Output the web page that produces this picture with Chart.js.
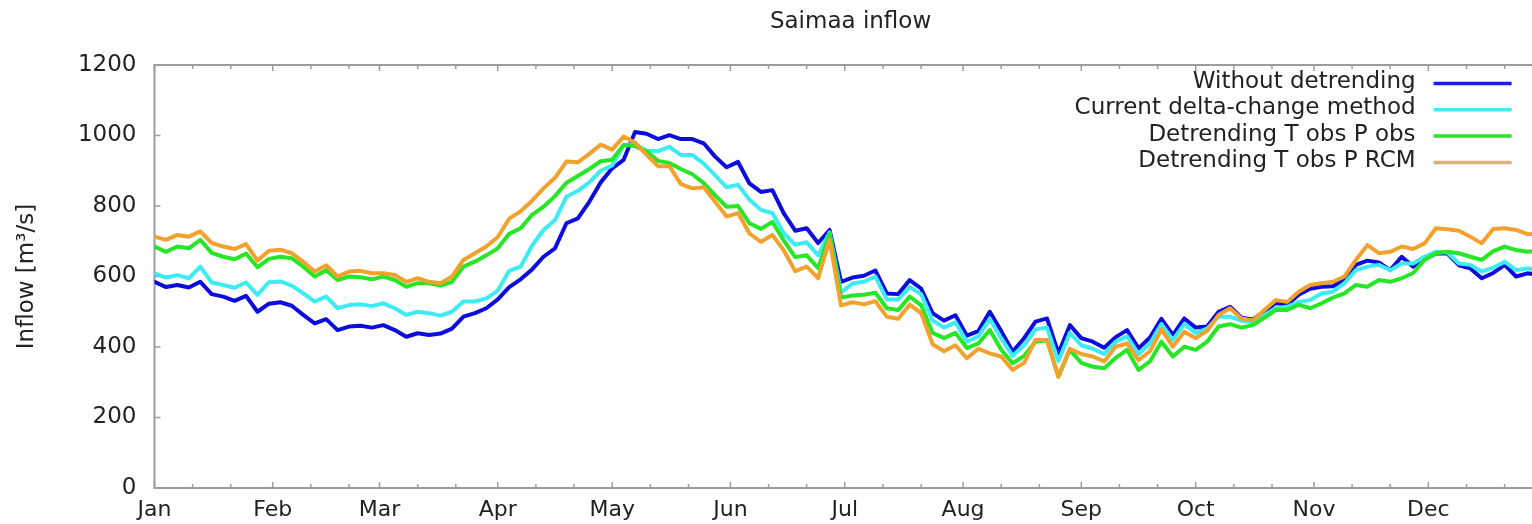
<!DOCTYPE html>
<html>
<head>
<meta charset="utf-8">
<title>Saimaa inflow</title>
<script src="https://cdn.jsdelivr.net/npm/chart.js@4.4.1/dist/chart.umd.min.js"></script>
<style>
  html, body { margin: 0; padding: 0; background: #ffffff; overflow: hidden; }
  #wrap { width: 1560px; height: 524px; }
</style>
</head>
<body>
<div id="wrap"><canvas id="chart" width="1560" height="524"></canvas></div>
<script>
// Day of year (0 = 1 Jan) for each sample
const days = [
  0, 3, 6, 9, 12, 15, 18, 21, 24, 27, 30, 33, 36, 39, 42, 45, 48, 51, 54, 57,
  60, 63, 66, 69, 72, 75, 78, 81, 84, 87, 90, 93, 96, 99, 102, 105, 108, 111, 114, 117,
  120, 123, 126, 129, 132, 135, 138, 141, 144, 147, 150, 153, 156, 159, 162, 165, 168, 171, 174, 177,
  180, 183, 186, 189, 192, 195, 198, 201, 204, 207, 210, 213, 216, 219, 222, 225, 228, 231, 234, 237,
  240, 243, 246, 249, 252, 255, 258, 261, 264, 267, 270, 273, 276, 279, 282, 285, 288, 291, 294, 297,
  300, 303, 306, 309, 312, 315, 318, 321, 324, 327, 330, 333, 336, 339, 342, 345, 348, 351, 354, 357,
  360, 363
];

// Inflow, m³/s
const withoutDetrending = [
  585, 570, 576, 569, 585, 550, 543, 531, 545, 500, 523, 527, 517, 491, 467, 479, 448, 458, 460, 455,
  462, 448, 429, 439, 434, 438, 452, 486, 496, 510, 535, 570, 592, 620, 656, 680, 751, 765, 812, 867,
  907, 931, 1010, 1005, 990, 1001, 990, 990, 978, 940, 910, 925, 864, 840, 845, 779, 730, 737, 695, 732,
  585, 597, 602, 617, 552, 550, 590, 566, 496, 475, 490, 432, 445, 500, 445, 387, 425, 472, 481, 382,
  462, 425, 415, 398, 428, 448, 396, 427, 480, 434, 481, 455, 458, 500, 514, 483, 478, 500, 525, 520,
  548, 565, 571, 572, 590, 633, 645, 640, 618, 656, 628, 650, 665, 665, 632, 623, 595, 610, 633, 600,
  609, 604
];
const currentDeltaChange = [
  609, 597, 604, 595, 628, 583, 576, 568, 583, 548, 584, 586, 574, 552, 529, 543, 510, 519, 521, 516,
  524, 510, 491, 500, 496, 489, 500, 529, 529, 538, 560, 616, 628, 688, 732, 760, 826, 843, 867, 900,
  915, 973, 975, 957, 956, 968, 945, 945, 920, 887, 853, 860, 818, 789, 780, 722, 690, 697, 660, 725,
  555, 580, 585, 600, 535, 535, 570, 550, 475, 455, 470, 415, 430, 480, 425, 375, 405, 450, 455, 360,
  440, 405, 395, 380, 415, 430, 380, 410, 465, 420, 465, 440, 452, 486, 486, 475, 470, 490, 510, 514,
  528, 533, 552, 557, 581, 618, 628, 633, 618, 637, 637, 656, 670, 668, 637, 633, 614, 625, 642, 618,
  623, 618
];
const detrendTobsPobs = [
  685, 670, 685, 680, 704, 667, 656, 649, 665, 626, 650, 656, 652, 628, 600, 618, 590, 600, 598, 592,
  600, 590, 571, 581, 581, 574, 585, 628, 642, 660, 680, 721, 737, 775, 798, 828, 866, 885, 905, 927,
  931, 973, 970, 955, 928, 922, 905, 890, 865, 830, 798, 800, 751, 735, 755, 702, 655, 660, 624, 720,
  540, 546, 548, 554, 510, 505, 543, 519, 440, 425, 440, 397, 410, 448, 392, 354, 375, 415, 420, 316,
  392, 355, 344, 340, 369, 392, 335, 359, 415, 373, 401, 392, 415, 458, 465, 455, 462, 483, 505, 505,
  520, 510, 524, 540, 552, 576, 571, 590, 585, 595, 610, 647, 666, 670, 666, 656, 647, 672, 685, 675,
  670, 673
];
const detrendTobsPrcm = [
  713, 704, 718, 713, 728, 695, 685, 678, 692, 645, 673, 676, 666, 642, 614, 632, 600, 614, 616, 609,
  609, 604, 585, 595, 585, 581, 600, 647, 666, 685, 712, 764, 785, 815, 850, 880, 926, 924, 948, 974,
  960, 997, 980, 945, 913, 913, 862, 850, 853, 812, 770, 780, 722, 698, 718, 674, 615, 628, 595, 704,
  518, 527, 521, 530, 486, 480, 520, 496, 408, 388, 405, 368, 395, 382, 373, 335, 355, 420, 420, 316,
  395, 380, 373, 359, 401, 410, 363, 388, 450, 401, 443, 425, 446, 491, 510, 481, 475, 505, 533, 528,
  557, 576, 581, 585, 600, 647, 689, 666, 670, 685, 678, 694, 737, 734, 730, 713, 694, 735, 737, 732,
  720, 722
];

const seriesNames = [
  'Without detrending',
  'Current delta-change method',
  'Detrending T obs P obs',
  'Detrending T obs P RCM'
];

// First day of each month and its label
const monthStarts = [0, 31, 59, 90, 120, 151, 181, 212, 243, 273, 304, 334];
const monthNames = ['Jan', 'Feb', 'Mar', 'Apr', 'May', 'Jun', 'Jul', 'Aug', 'Sep', 'Oct', 'Nov', 'Dec'];
const yTickValues = [0, 200, 400, 600, 800, 1000, 1200];

const lineColors = ['#0c0cdc', '#3cecf2', '#26e626', '#f2a22c'];
const legendColors = ['#1e1ed2', '#4ee6f2', '#2ee22e', '#dcb07c'];
const textColor = '#222222';
const frameColor = '#9c9c9c';
const fontFamily = "'DejaVu Sans', 'Liberation Sans', sans-serif";

Chart.defaults.font.family = fontFamily;
Chart.defaults.font.size = 22;
Chart.defaults.color = textColor;

const seriesValues = [withoutDetrending, currentDeltaChange, detrendTobsPobs, detrendTobsPrcm];

// Box border with inward tick marks on bottom, top and left sides
const framePlugin = {
  id: 'frame',
  beforeDatasetsDraw(chart) {
    const { ctx, chartArea: a, scales: { x, y } } = chart;
    ctx.save();
    ctx.strokeStyle = frameColor;
    ctx.lineWidth = 2;
    ctx.beginPath();
    ctx.moveTo(a.left, a.top);
    ctx.lineTo(a.left, a.bottom);
    ctx.lineTo(a.right, a.bottom);
    ctx.lineTo(a.right, a.top);
    ctx.closePath();
    ctx.stroke();

    ctx.lineWidth = 1.5;
    ctx.beginPath();
    monthStarts.forEach(m => {
      [0, 10, 20].forEach(off => {
        const d = m + off;
        if (d >= 365) return;
        const px = x.getPixelForValue(d);
        const len = off === 0 ? 6 : 4;
        ctx.moveTo(px, a.bottom);
        ctx.lineTo(px, a.bottom - len);
        ctx.moveTo(px, a.top);
        ctx.lineTo(px, a.top + len);
      });
    });
    yTickValues.forEach(v => {
      const py = y.getPixelForValue(v);
      ctx.moveTo(a.left, py);
      ctx.lineTo(a.left + 6, py);
      ctx.moveTo(a.right, py);
      ctx.lineTo(a.right - 6, py);
    });
    ctx.stroke();
    ctx.restore();
  }
};

// Chart title and the key in the upper right corner
const labelsPlugin = {
  id: 'labels',
  afterDatasetsDraw(chart) {
    const { ctx, chartArea: a } = chart;
    ctx.save();
    ctx.fillStyle = textColor;
    ctx.font = '23px ' + fontFamily;
    ctx.textAlign = 'center';
    ctx.textBaseline = 'middle';
    ctx.fillText('Saimaa inflow', (a.left + a.right) / 2, 22);

    ctx.textAlign = 'right';
    ctx.font = '23px ' + fontFamily;
    seriesNames.forEach((name, i) => {
      const rowY = a.top + 17 + i * 26.3;
      ctx.fillStyle = textColor;
      ctx.fillText(name, a.right - 131, rowY);
      ctx.strokeStyle = legendColors[i];
      ctx.lineWidth = 3.5;
      ctx.beginPath();
      ctx.moveTo(a.right - 113, rowY + 1.5);
      ctx.lineTo(a.right - 35, rowY + 1.5);
      ctx.stroke();
    });
    ctx.restore();
  }
};

const datasets = seriesNames.map((name, i) => ({
  label: name,
  data: days.map((d, k) => ({ x: d, y: seriesValues[i][k] })),
  borderColor: lineColors[i],
  backgroundColor: lineColors[i],
  borderWidth: 4,
  pointRadius: 0,
  tension: 0,
  fill: false,
  borderJoinStyle: 'round',
  borderCapStyle: 'round',
  order: seriesNames.length - i
}));

new Chart(document.getElementById('chart'), {
  type: 'line',
  data: { datasets },
  plugins: [framePlugin, labelsPlugin],
  options: {
    responsive: false,
    animation: false,
    devicePixelRatio: 1,
    layout: { padding: { top: 65, right: 13.4, bottom: 0, left: 0 } },
    plugins: {
      legend: { display: false },
      title: { display: false },
      tooltip: { enabled: false }
    },
    scales: {
      x: {
        type: 'linear',
        min: 0,
        max: 365,
        grid: { display: false, drawTicks: false },
        border: { display: false },
        afterBuildTicks(scale) {
          scale.ticks = monthStarts.map(v => ({ value: v }));
        },
        afterFit(scale) { scale.height = 36; },
        ticks: {
          autoSkip: false,
          maxRotation: 0,
          padding: 9,
          color: textColor,
          font: { size: 22 },
          callback(value) {
            const idx = monthStarts.indexOf(value);
            return idx >= 0 ? monthNames[idx] : '';
          }
        }
      },
      y: {
        type: 'linear',
        min: 0,
        max: 1200,
        grid: { display: false, drawTicks: false },
        border: { display: false },
        afterBuildTicks(scale) {
          scale.ticks = yTickValues.map(v => ({ value: v }));
        },
        afterFit(scale) { scale.width = 154.5; },
        ticks: {
          padding: 18,
          color: textColor,
          font: { size: 23 },
          callback(value) { return String(value); }
        },
        title: {
          display: true,
          text: 'Inflow [m³/s]',
          color: textColor,
          font: { size: 23 },
          padding: { top: 13, bottom: 0 }
        }
      }
    }
  }
});
</script>
</body>
</html>
